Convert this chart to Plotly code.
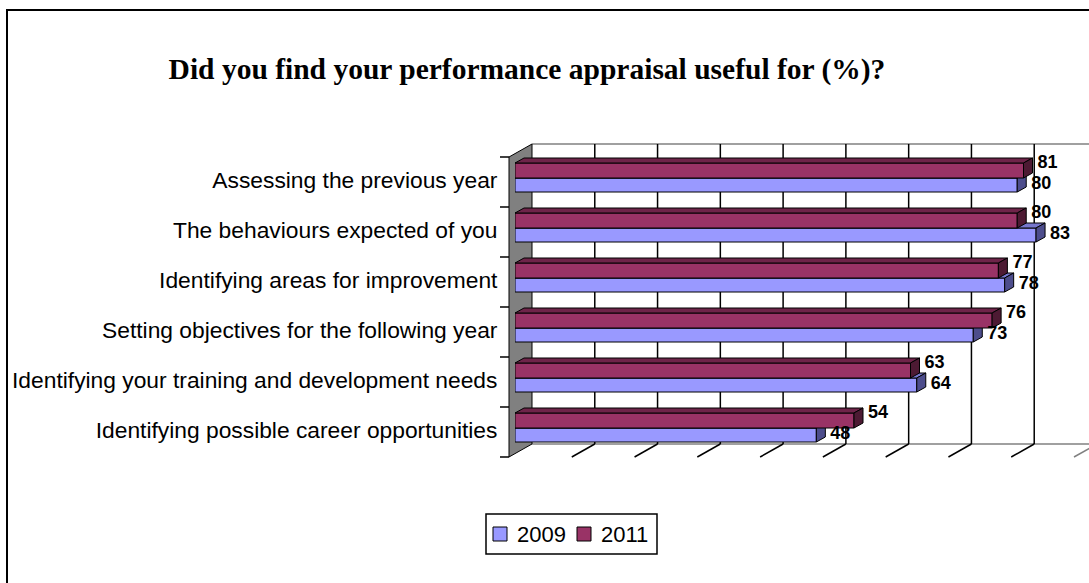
import plotly.graph_objects as go

# ---------------- data ----------------
categories = [
    "Assessing the previous year",
    "The behaviours expected of you",
    "Identifying areas for improvement",
    "Setting objectives for the following year",
    "Identifying your training and development needs",
    "Identifying possible career opportunities",
]
values_2009 = [80, 83, 78, 73, 64, 48]
values_2011 = [81, 80, 77, 76, 63, 54]
series_names = ["2009", "2011"]
title_text = "Did you find your performance appraisal useful for (%)?"
x_range = [0, 90]
grid_values = list(range(10, 91, 10))

# ---------------- layout geometry ----------------
W, H = 1089, 583
ML, MR, MT, MB = 515, 9, 155, 128
PW = W - ML - MR
PH = H - MT - MB
PXU = PW / (x_range[1] - x_range[0])   # px per value unit
n = len(categories)
pos = [n - 1 - i for i in range(n)]    # first category at top
CAT_PX = PH / n

BAR_DX = 9 / PXU        # bar depth (px -> units)
BAR_DY = 5 / CAT_PX
LABEL_GAP = 5 / PXU
WALL_DX, WALL_DY = 17, 12   # back wall offset in px
FRONT_DX, FRONT_DY = -6, 2  # front plane offset in px

B09 = (-0.24, 0.04)   # bar extent relative to category position
B11 = (0.04, 0.34)

C09, C11 = "#9999FF", "#993366"
C09_TOP, C09_SIDE = "#7676CC", "#4D4D8C"
C11_TOP, C11_SIDE = "#6E2449", "#4D1A33"
SANS = "Liberation Sans, Arial, sans-serif"


def xp(px):
    return (px - ML) / PW


def yp(py):
    return (H - MB - py) / PH


def side_faces(vals, ext):
    xs, ys = [], []
    for v, p in zip(vals, pos):
        y0, y1 = p + ext[0], p + ext[1]
        xs += [v, v, v + BAR_DX, v + BAR_DX, v, None]
        ys += [y0, y1, y1 + BAR_DY, y0 + BAR_DY, y0, None]
    return xs, ys


def top_faces(vals, ext):
    xs, ys = [], []
    for v, p in zip(vals, pos):
        y1 = p + ext[1]
        xs += [0, v, v + BAR_DX, BAR_DX, 0, None]
        ys += [y1, y1, y1 + BAR_DY, y1 + BAR_DY, y1, None]
    return xs, ys


fig = go.Figure()

# ---- 2009 (lower subplot layer) ----
fig.add_trace(go.Bar(
    name=series_names[0], orientation="h", x=values_2009, y=pos,
    offset=B09[0], width=B09[1] - B09[0], base=0,
    marker=dict(color=C09, line=dict(color="black", width=1)),
    yaxis="y", hoverinfo="x+name", showlegend=False))
tx, ty = top_faces(values_2009, B09)
fig.add_trace(go.Scatter(x=tx, y=ty, mode="lines", fill="toself", fillcolor=C09_TOP,
                         line=dict(color="black", width=1), showlegend=False,
                         hoverinfo="skip", yaxis="y"))
sx, sy = side_faces(values_2009, B09)
fig.add_trace(go.Scatter(x=sx, y=sy, mode="lines", fill="toself", fillcolor=C09_SIDE,
                         line=dict(color="black", width=1), showlegend=False,
                         hoverinfo="skip", yaxis="y"))

# ---- 2011 (upper subplot layer, drawn over 2009) ----
fig.add_trace(go.Bar(
    name=series_names[1], orientation="h", x=values_2011, y=pos,
    offset=B11[0], width=B11[1] - B11[0], base=0,
    marker=dict(color=C11, line=dict(color="black", width=1)),
    yaxis="y2", hoverinfo="x+name", showlegend=False))
tx, ty = top_faces(values_2011, B11)
fig.add_trace(go.Scatter(x=tx, y=ty, mode="lines", fill="toself", fillcolor=C11_TOP,
                         line=dict(color="black", width=1), showlegend=False,
                         hoverinfo="skip", yaxis="y2"))
sx, sy = side_faces(values_2011, B11)
fig.add_trace(go.Scatter(x=sx, y=sy, mode="lines", fill="toself", fillcolor=C11_SIDE,
                         line=dict(color="black", width=1), showlegend=False,
                         hoverinfo="skip", yaxis="y2"))

# ---- data labels ----
label_font = dict(family=SANS, size=18, color="black")
fig.add_trace(go.Scatter(
    x=[v + BAR_DX + LABEL_GAP for v in values_2011], y=[p + B11[1] for p in pos],
    mode="text", text=[f"<b>{v}</b>" for v in values_2011],
    textposition="middle right", textfont=label_font, cliponaxis=False,
    showlegend=False, hoverinfo="skip", yaxis="y2"))
fig.add_trace(go.Scatter(
    x=[v + BAR_DX + LABEL_GAP for v in values_2009], y=[p - 0.09 for p in pos],
    mode="text", text=[f"<b>{v}</b>" for v in values_2009],
    textposition="middle right", textfont=label_font, cliponaxis=False,
    showlegend=False, hoverinfo="skip", yaxis="y2"))

# ---------------- decorations (3-D box) ----------------
shapes = []
annotations = []
# outer chart border (clipped by page at right / bottom)
shapes.append(dict(type="rect", xref="paper", yref="paper",
                   x0=xp(7), x1=xp(W + 30), y0=yp(10), y1=yp(H + 30),
                   line=dict(color="black", width=2), fillcolor="white", layer="below"))

top_back = MT - WALL_DY + 1          # 144
bot_back = H - MB - WALL_DY + 1      # 444
top_front = MT + FRONT_DY            # 157
bot_front = H - MB + FRONT_DY        # 457
x_back0 = ML + WALL_DX               # 532
x_front0 = ML + FRONT_DX             # 509
x_back_end = x_back0 + (x_range[1] - x_range[0]) * PXU

shapes.append(dict(type="line", xref="paper", yref="paper",
                   x0=xp(x_back0), x1=xp(x_back_end), y0=yp(top_back), y1=yp(top_back),
                   line=dict(color="#808080", width=1.5), layer="below"))
shapes.append(dict(type="line", xref="paper", yref="paper",
                   x0=xp(x_back0), x1=xp(x_back_end), y0=yp(bot_back), y1=yp(bot_back),
                   line=dict(color="#808080", width=1.5), layer="below"))
for g in grid_values:
    gx = x_back0 + g * PXU
    last = g == x_range[1]
    shapes.append(dict(type="line", xref="paper", yref="paper",
                       x0=xp(gx), x1=xp(gx), y0=yp(top_back), y1=yp(bot_back),
                       line=dict(color="#808080" if last else "black", width=1.5), layer="below"))
    shapes.append(dict(type="line", xref="paper", yref="paper",
                       x0=xp(x_front0 + g * PXU), x1=xp(gx), y0=yp(bot_front), y1=yp(bot_back),
                       line=dict(color="#808080" if last else "black", width=1.5), layer="below"))
wall = (f"M {xp(x_front0)},{yp(top_front)} L {xp(x_back0)},{yp(top_back)} "
        f"L {xp(x_back0)},{yp(bot_back)} L {xp(x_front0)},{yp(bot_front)} Z")
shapes.append(dict(type="path", xref="paper", yref="paper", path=wall,
                   fillcolor="#808080", line=dict(color="black", width=1), layer="below"))
for j in range(n + 1):
    ty_ = top_front + j * CAT_PX
    shapes.append(dict(type="line", xref="paper", yref="paper",
                       x0=xp(x_front0 - 9), x1=xp(x_front0), y0=yp(ty_), y1=yp(ty_),
                       line=dict(color="black", width=1.5), layer="below"))

# ---------------- legend (drawn as a boxed key) ----------------
LEG_X0, LEG_Y0, LEG_X1, LEG_Y1 = 486, 514, 657, 554
shapes.append(dict(type="rect", xref="paper", yref="paper",
                   x0=xp(LEG_X0), x1=xp(LEG_X1), y0=yp(LEG_Y0), y1=yp(LEG_Y1),
                   line=dict(color="black", width=1.5), fillcolor="white", layer="above"))
leg_cy = (LEG_Y0 + LEG_Y1) / 2
for name, col, sq_x in zip(series_names, [C09, C11], [493, 577]):
    shapes.append(dict(type="rect", xref="paper", yref="paper",
                       x0=xp(sq_x), x1=xp(sq_x + 14), y0=yp(leg_cy - 7), y1=yp(leg_cy + 7),
                       line=dict(color="black", width=1), fillcolor=col, layer="above"))
    annotations.append(dict(text=name, xref="paper", yref="paper",
                            x=xp(sq_x + 22), y=yp(leg_cy), xanchor="left", yanchor="middle",
                            showarrow=False, font=dict(family=SANS, size=22, color="black")))

fig.update_layout(
    width=W, height=H,
    margin=dict(l=ML, r=MR, t=MT, b=MB, autoexpand=False),
    paper_bgcolor="white", plot_bgcolor="rgba(0,0,0,0)",
    barmode="overlay",
    shapes=shapes,
    annotations=annotations,
    title=dict(text=f"<b>{title_text}</b>", xref="container", yref="container",
               x=527 / W, xanchor="center", y=1 - 69 / H, yanchor="middle",
               font=dict(family="Liberation Serif, Times New Roman, serif", size=29.5, color="black")),
    xaxis=dict(range=x_range, showgrid=False, zeroline=False, showticklabels=False,
               showline=False, ticks=""),
    yaxis=dict(range=[-0.5, n - 0.5], tickmode="array", tickvals=pos, ticktext=categories,
               showgrid=False, zeroline=False, showline=False,
               ticks="outside", ticklen=12, tickcolor="rgba(0,0,0,0)",
               tickfont=dict(family=SANS, size=22.8, color="black")),
    yaxis2=dict(range=[-0.5, n - 0.5], overlaying="y", side="left", showgrid=False,
                zeroline=False, showline=False, showticklabels=False, ticks=""),
    showlegend=False,
)

fig.write_html("out.html")
